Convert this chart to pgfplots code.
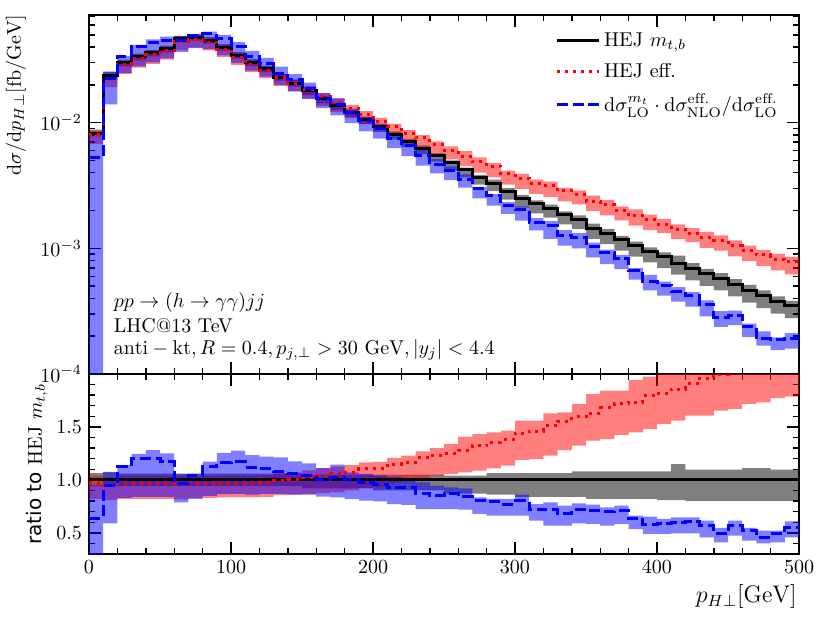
\documentclass[border=0pt]{standalone}
\usepackage{fontspec}
\newfontfamily\dejavu{DejaVu Sans}
\usepackage{pgfplots}
\pgfplotsset{compat=1.18}
\usepackage{pgfplotstable}
\usepgfplotslibrary{fillbetween}

\pgfplotstableread{
x B Blo Bhi R Rlo Rhi U Ulo Uhi
0 0.00828 0.00778 0.00882 0.00801 0.00679 0.00861 0.00530 0.00001 0.00787
10 0.0237 0.02228 0.02548 0.02240 0.01920 0.02417 0.02240 0.01398 0.02536
20 0.0299 0.02811 0.03169 0.02891 0.02452 0.03110 0.03364 0.02482 0.03409
30 0.0334 0.03140 0.03540 0.03230 0.02739 0.03474 0.04021 0.02806 0.04158
40 0.0359 0.03375 0.03805 0.03472 0.02944 0.03734 0.04322 0.03016 0.04602
50 0.0387 0.03638 0.04102 0.03735 0.03173 0.04025 0.04547 0.03251 0.04838
60 0.0464 0.04362 0.04918 0.04464 0.03782 0.04802 0.04492 0.03656 0.04900
70 0.0478 0.04493 0.05067 0.04598 0.03967 0.04947 0.04971 0.03920 0.05048
80 0.0453 0.04258 0.04802 0.04362 0.03760 0.04689 0.05096 0.03851 0.05309
90 0.0398 0.03741 0.04219 0.03841 0.03323 0.04139 0.04641 0.03443 0.04991
100 0.0344 0.03234 0.03646 0.03330 0.02872 0.03578 0.04032 0.02982 0.04389
110 0.0302 0.02839 0.03201 0.02929 0.02522 0.03141 0.03379 0.02597 0.03730
120 0.0269 0.02529 0.02851 0.02615 0.02260 0.02811 0.02967 0.02332 0.03282
130 0.0230 0.02162 0.02438 0.02284 0.01967 0.02450 0.02486 0.01994 0.02790
140 0.0207 0.01946 0.02194 0.02070 0.01780 0.02215 0.02205 0.01780 0.02432
150 0.0180 0.01656 0.01890 0.01832 0.01557 0.01962 0.01872 0.01548 0.02081
160 0.0155 0.01426 0.01628 0.01612 0.01356 0.01721 0.01562 0.01305 0.01724
170 0.0137 0.01260 0.01439 0.01447 0.01212 0.01541 0.01403 0.01144 0.01567
180 0.0121 0.01113 0.01271 0.01296 0.01089 0.01379 0.01210 0.00992 0.01296
190 0.0106 0.00975 0.01113 0.01169 0.00981 0.01236 0.01036 0.00852 0.01119
200 0.00935 0.00842 0.00982 0.01031 0.00870 0.01094 0.00899 0.00746 0.00972
210 0.00813 0.00732 0.00854 0.00935 0.00789 0.00981 0.00751 0.00628 0.00833
220 0.00709 0.00638 0.00744 0.00827 0.00698 0.00872 0.00655 0.00542 0.00716
230 0.00628 0.00565 0.00659 0.00758 0.00641 0.00798 0.00548 0.00455 0.00614
240 0.00546 0.00491 0.00573 0.00673 0.00568 0.00710 0.00465 0.00396 0.00516
250 0.00483 0.00420 0.00502 0.00604 0.00510 0.00647 0.00419 0.00350 0.00449
260 0.00422 0.00367 0.00439 0.00541 0.00452 0.00594 0.00355 0.00304 0.00388
270 0.00369 0.00321 0.00384 0.00488 0.00401 0.00529 0.00299 0.00250 0.00308
280 0.00331 0.00285 0.00353 0.00449 0.00367 0.00480 0.00263 0.00219 0.00271
290 0.00284 0.00244 0.00302 0.00392 0.00322 0.00416 0.00219 0.00188 0.00233
300 0.00251 0.00211 0.00267 0.00361 0.00298 0.00391 0.00202 0.00166 0.00216
310 0.00226 0.00190 0.00241 0.00330 0.00271 0.00352 0.00162 0.00139 0.00174
320 0.00209 0.00176 0.00223 0.00316 0.00257 0.00340 0.00152 0.00119 0.00165
330 0.00185 0.00155 0.00197 0.00287 0.00237 0.00303 0.00127 0.00105 0.00140
340 0.00169 0.00142 0.00183 0.00270 0.00224 0.00290 0.00123 0.00100 0.00132
350 0.00145 0.00119 0.00157 0.00236 0.00199 0.00263 0.00103 0.000847 0.00111
360 0.00132 0.00108 0.00143 0.00222 0.00183 0.00243 0.000924 0.000750 0.000978
370 0.00117 0.000959 0.00126 0.00201 0.00167 0.00216 0.000830 0.000683 0.000886
380 0.00105 0.000861 0.00113 0.00182 0.00152 0.00204 0.000672 0.000563 0.000695
390 0.000944 0.000774 0.00102 0.00169 0.00140 0.00186 0.000545 0.000462 0.000616
400 0.000861 0.000697 0.000930 0.00156 0.00132 0.00172 0.000508 0.000421 0.000543
410 0.000762 0.000617 0.000876 0.00142 0.00119 0.00155 0.000456 0.000377 0.000492
420 0.000695 0.000556 0.000762 0.00132 0.00112 0.00145 0.000421 0.000344 0.000449
430 0.000627 0.000502 0.000688 0.00123 0.00101 0.00135 0.000356 0.000287 0.000386
440 0.000579 0.000463 0.000635 0.00116 0.000958 0.00127 0.000283 0.000237 0.000316
450 0.000518 0.000414 0.000568 0.00105 0.000865 0.00116 0.000294 0.000245 0.000319
460 0.000462 0.000370 0.000513 0.000956 0.000793 0.00105 0.000241 0.000197 0.000252
470 0.000418 0.000334 0.000464 0.000886 0.000724 0.000974 0.000191 0.000168 0.000218
480 0.000377 0.000302 0.000414 0.000822 0.000668 0.000905 0.000187 0.000155 0.000196
490 0.000348 0.000278 0.000382 0.000780 0.000622 0.000856 0.000192 0.000159 0.000212
500 0.000348 0.000278 0.000382 0.000780 0.000622 0.000856 0.000192 0.000159 0.000212
}\toptab

\pgfplotstableread{
x glo ghi rc rlo rhi uc ulo uhi
0 0.94 1.065 0.967 0.82 1.04 0.640 0.001 0.95
10 0.94 1.075 0.945 0.81 1.02 0.945 0.59 1.07
20 0.94 1.06 0.967 0.82 1.04 1.125 0.83 1.14
30 0.94 1.06 0.967 0.82 1.04 1.204 0.84 1.245
40 0.94 1.06 0.967 0.82 1.04 1.204 0.84 1.282
50 0.94 1.06 0.965 0.82 1.04 1.175 0.84 1.25
60 0.94 1.06 0.962 0.815 1.035 0.968 0.788 1.056
70 0.94 1.06 0.962 0.83 1.035 1.040 0.82 1.056
80 0.94 1.06 0.963 0.83 1.035 1.125 0.85 1.172
90 0.94 1.06 0.965 0.835 1.04 1.166 0.865 1.254
100 0.94 1.06 0.968 0.835 1.04 1.172 0.867 1.276
110 0.94 1.06 0.970 0.835 1.04 1.119 0.86 1.235
120 0.94 1.06 0.972 0.84 1.045 1.103 0.867 1.22
130 0.94 1.06 0.993 0.855 1.065 1.081 0.867 1.213
140 0.94 1.06 1.000 0.86 1.07 1.065 0.86 1.175
150 0.92 1.05 1.018 0.865 1.09 1.040 0.86 1.156
160 0.92 1.05 1.040 0.875 1.11 1.008 0.842 1.112
170 0.92 1.05 1.056 0.885 1.125 1.024 0.835 1.144
180 0.92 1.05 1.071 0.90 1.14 1.000 0.82 1.071
190 0.92 1.05 1.103 0.925 1.166 0.977 0.804 1.056
200 0.90 1.05 1.103 0.93 1.17 0.961 0.798 1.04
210 0.90 1.05 1.150 0.97 1.207 0.924 0.772 1.025
220 0.90 1.05 1.166 0.985 1.23 0.924 0.765 1.01
230 0.90 1.05 1.207 1.02 1.27 0.873 0.725 0.977
240 0.90 1.05 1.232 1.04 1.30 0.851 0.725 0.945
250 0.87 1.04 1.251 1.056 1.339 0.867 0.725 0.93
260 0.87 1.04 1.282 1.071 1.408 0.842 0.72 0.92
270 0.87 1.04 1.323 1.087 1.433 0.810 0.678 0.835
280 0.86 1.065 1.355 1.109 1.449 0.794 0.662 0.82
290 0.86 1.065 1.380 1.134 1.465 0.772 0.662 0.82
300 0.84 1.065 1.440 1.188 1.559 0.804 0.662 0.861
310 0.84 1.065 1.459 1.197 1.559 0.716 0.615 0.772
320 0.84 1.065 1.512 1.229 1.629 0.725 0.568 0.788
330 0.84 1.065 1.553 1.282 1.638 0.684 0.568 0.757
340 0.84 1.08 1.597 1.323 1.717 0.725 0.590 0.779
350 0.82 1.08 1.629 1.370 1.811 0.709 0.584 0.766
360 0.82 1.08 1.679 1.386 1.843 0.700 0.568 0.741
370 0.82 1.08 1.717 1.424 1.843 0.709 0.584 0.757
380 0.82 1.08 1.732 1.449 1.943 0.640 0.536 0.662
390 0.82 1.08 1.795 1.480 1.975 0.577 0.489 0.653
400 0.81 1.08 1.817 1.528 2.0 0.590 0.489 0.631
410 0.81 1.15 1.858 1.559 2.04 0.599 0.495 0.646
420 0.80 1.097 1.906 1.607 2.09 0.606 0.495 0.646
430 0.80 1.097 1.962 1.607 2.15 0.568 0.458 0.615
440 0.80 1.097 2.00 1.654 2.2 0.489 0.410 0.546
450 0.80 1.097 2.03 1.67 2.23 0.568 0.473 0.615
460 0.80 1.11 2.07 1.717 2.28 0.521 0.426 0.546
470 0.80 1.11 2.12 1.732 2.33 0.458 0.401 0.521
480 0.80 1.097 2.18 1.773 2.40 0.495 0.410 0.521
490 0.80 1.097 2.24 1.786 2.46 0.552 0.458 0.609
500 0.80 1.097 2.24 1.786 2.46 0.552 0.458 0.609
}\ratiotab

\begin{document}
\begin{tikzpicture}
\pgfplotsset{
  every axis/.append style={
    width=355pt, scale only axis, xmin=0, xmax=500,
    axis line style={line width=0.9pt},
    major tick length=6pt, minor tick length=3pt,
    every tick/.style={black, line width=0.7pt},
    xtick={0,100,200,300,400,500}, minor x tick num=4,
    tick align=inside,
  },
  lineB/.style={const plot, black, line width=1.5pt},
  lineR/.style={const plot, red, line width=1.5pt, dash pattern=on 1.5pt off 2.5pt},
  lineU/.style={const plot, blue, line width=1.5pt, dash pattern=on 5.5pt off 2.4pt},
  helper/.style={const plot, draw=none, forget plot},
}
% ---------------- top panel ----------------
\begin{axis}[
  at={(0,90pt)}, anchor=south west, height=179.5pt,
  ymode=log, ymin=1e-4, ymax=0.072,
  ytick={1e-4,1e-3,1e-2},
  minor ytick={2e-4,3e-4,4e-4,5e-4,6e-4,7e-4,8e-4,9e-4,2e-3,3e-3,4e-3,5e-3,6e-3,7e-3,8e-3,9e-3,2e-2,3e-2,4e-2,5e-2,6e-2,7e-2},
  xticklabels={},
  ylabel={$\mathrm{d}\sigma/\mathrm{d}p_{H\perp}[\mathrm{fb}/\mathrm{GeV}]$},
  ylabel style={at={(axis description cs:-0.093,1)}, anchor=east, yshift=3.5pt, inner sep=0pt, font=\normalsize},
  legend style={at={(0.985,0.975)}, anchor=north east, draw=none, fill=none, row sep=3pt, font=\normalsize},
  legend cell align=left,
  legend image code/.code={\draw[#1] (0pt,0pt) -- (21pt,0pt);},
]
\addplot[helper, name path=glo] table[x=x,y=Blo]{\toptab};
\addplot[helper, name path=ghi] table[x=x,y=Bhi]{\toptab};
\addplot[fill=black, fill opacity=0.5, draw=none, forget plot] fill between[of=glo and ghi];
\addplot[helper, name path=rlo] table[x=x,y=Rlo]{\toptab};
\addplot[helper, name path=rhi] table[x=x,y=Rhi]{\toptab};
\addplot[fill=red, fill opacity=0.5, draw=none, forget plot] fill between[of=rlo and rhi];
\addplot[helper, name path=ulo] table[x=x,y=Ulo]{\toptab};
\addplot[helper, name path=uhi] table[x=x,y=Uhi]{\toptab};
\addplot[fill=blue, fill opacity=0.5, draw=none, forget plot] fill between[of=ulo and uhi];
\addplot[lineB] table[x=x,y=B]{\toptab};
\addlegendentry{HEJ $m_{t,b}$}
\addplot[lineR] table[x=x,y=R]{\toptab};
\addlegendentry{HEJ eff.}
\addplot[lineU] table[x=x,y=U]{\toptab};
\addlegendentry{$\mathrm{d}\sigma^{m_t}_{\mathrm{LO}}\cdot\mathrm{d}\sigma^{\mathrm{eff.}}_{\mathrm{NLO}}/\mathrm{d}\sigma^{\mathrm{eff.}}_{\mathrm{LO}}$}
\node[anchor=base west] at (axis description cs:0.025,0.184) {$pp\to(h\to\gamma\gamma)jj$};
\node[anchor=base west] at (axis description cs:0.025,0.117) {LHC@13 TeV};
\node[anchor=base west] at (axis description cs:0.025,0.053) {$\mathrm{anti}-\mathrm{kt}, R=0.4, p_{j,\perp}>30\ \mathrm{GeV}, |y_j|<4.4$};
\end{axis}
% ---------------- ratio panel ----------------
\begin{axis}[
  at={(0,0)}, anchor=south west, height=90pt,
  ymin=0.3, ymax=2.0,
  ytick={0.5,1.0,1.5},
  minor ytick={0.4,0.6,0.7,0.8,0.9,1.1,1.2,1.3,1.4,1.6,1.7,1.8,1.9},
  yticklabel style={/pgf/number format/fixed, /pgf/number format/fixed zerofill, /pgf/number format/precision=1},
  xlabel={$p_{H\perp}[\mathrm{GeV}]$},
  xlabel style={at={(axis description cs:1,0)}, anchor=north east, yshift=-15pt, xshift=-1pt, inner sep=0pt, font=\large},
  ylabel={{\dejavu ratio to} $\mathrm{HEJ}\ m_{t,b}$},
  ylabel style={at={(axis description cs:-0.073,0.5)}, anchor=center, font=\normalsize},
]
\addplot[helper, name path=gglo] table[x=x,y=glo]{\ratiotab};
\addplot[helper, name path=gghi] table[x=x,y=ghi]{\ratiotab};
\addplot[fill=black, fill opacity=0.5, draw=none, forget plot] fill between[of=gglo and gghi];
\addplot[helper, name path=rrlo] table[x=x,y=rlo]{\ratiotab};
\addplot[helper, name path=rrhi] table[x=x,y=rhi]{\ratiotab};
\addplot[fill=red, fill opacity=0.5, draw=none, forget plot] fill between[of=rrlo and rrhi];
\addplot[helper, name path=uulo] table[x=x,y=ulo]{\ratiotab};
\addplot[helper, name path=uuhi] table[x=x,y=uhi]{\ratiotab};
\addplot[fill=blue, fill opacity=0.5, draw=none, forget plot] fill between[of=uulo and uuhi];
\addplot[black, line width=1.5pt] coordinates {(0,1) (500,1)};
\addplot[lineR] table[x=x,y=rc]{\ratiotab};
\addplot[lineU] table[x=x,y=uc]{\ratiotab};
\end{axis}
\pgfresetboundingbox
\path[use as bounding box] (-44.5pt,-34.5pt) rectangle (370.5pt,277pt);
\end{tikzpicture}
\end{document}
